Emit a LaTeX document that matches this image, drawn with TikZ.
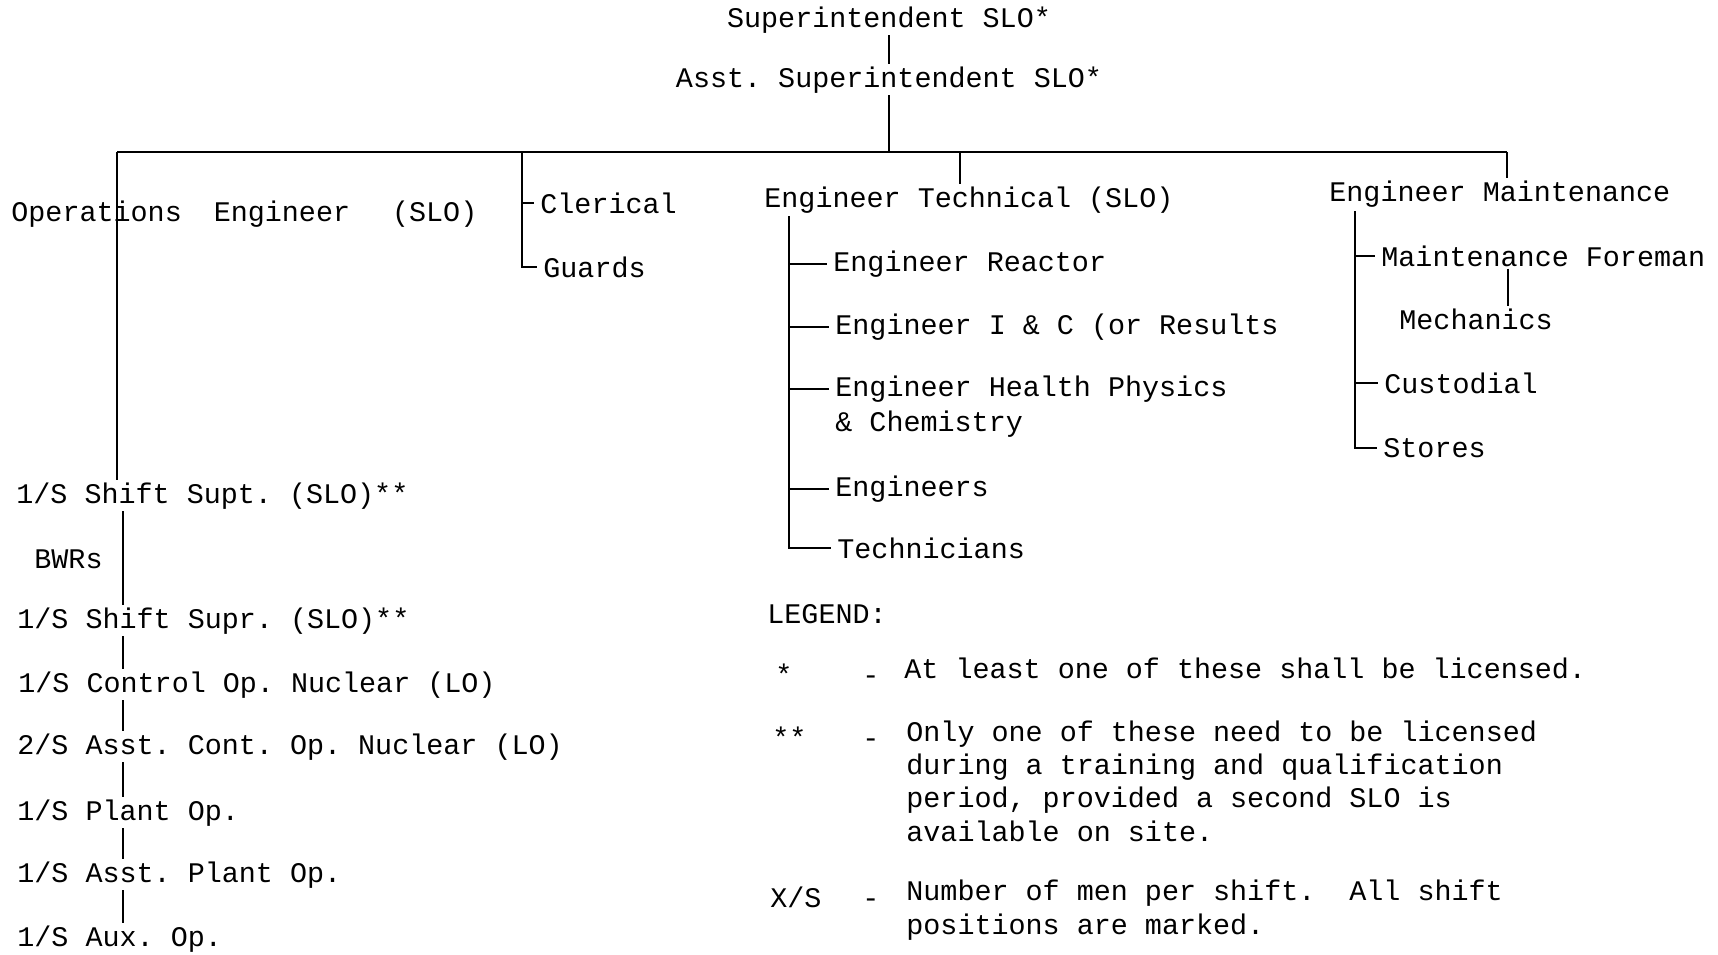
\documentclass[tikz,border=0pt]{standalone}
\usepackage{fontspec}
\setmonofont{Liberation Mono}
\usepackage{tikz}
\usetikzlibrary{positioning}

\begin{document}
\begin{tikzpicture}[x=0.5pt, y=0.5pt,
    font=\ttfamily\fontsize{14.2}{16.6}\selectfont,
    lbl/.style={anchor=base west, inner xsep=3pt, inner ysep=1pt},
    conn/.style={line width=0.9pt}]
    \useasboundingbox (0,0) rectangle (1718,-954);

    % top of the chart
    \node (sup) [anchor=base, inner sep=1pt] at (889,-27) {Superintendent SLO*};
    \node (asst) [anchor=base, inner sep=1pt] at (889,-87) {Asst. Superintendent SLO*};
    \coordinate (bus) at (889,-152);
    \draw [conn] (sup) -- (asst);
    \draw [conn] (asst) -- (bus);
    \draw [conn] (117,-152) -- (1507,-152);

    % departments
    \node (ops) [lbl] at (5,-221) {Operations\hspace{16pt}Engineer\hspace{21pt}(SLO)};
    \node (cler) [lbl] at (534,-213) {Clerical};
    \node (guards) [lbl] at (537,-277) {Guards};
    \node (tech) [lbl] at (758,-207) {Engineer Technical (SLO)};
    \node (maint) [lbl] at (1323,-201) {Engineer Maintenance};

    \coordinate (opsx) at (117,-152);
    \coordinate (clerx) at (522,-152);
    \coordinate (techx) at (960,-152);
    \coordinate (maintx) at (1507,-152);

    % technical staff
    \node (er) [lbl] at (827,-271) {Engineer Reactor};
    \node (ic) [lbl] at (829,-334) {Engineer I \& C (or Results};
    \node (hp) [lbl] at (829,-396) {Engineer Health Physics};
    \node (hpb) [lbl] at (829,-431) {\& Chemistry};
    \node (engs) [lbl] at (829,-496) {Engineers};
    \node (techn) [lbl] at (831,-558) {Technicians};
    \coordinate (techv) at (789,-216);

    % maintenance staff
    \node (mf) [lbl] at (1375,-266) {Maintenance Foreman};
    \node (mech) [lbl] at (1393,-329) {Mechanics};
    \node (cust) [lbl] at (1378,-393) {Custodial};
    \node (stores) [lbl] at (1377,-457) {Stores};
    \coordinate (maintv) at (1355,-211);
    \coordinate (mfx) at (1508,-272);

    % shift crew
    \node (ss1) [lbl] at (10,-503) {1/S Shift Supt. (SLO)**};
    \node (bwr) [lbl] at (28,-568) {BWRs};
    \node (ss2) [lbl] at (11,-628) {1/S Shift Supr. (SLO)**};
    \node (cop) [lbl] at (12,-692) {1/S Control Op. Nuclear (LO)};
    \node (acop) [lbl] at (11,-754) {2/S Asst. Cont. Op. Nuclear (LO)};
    \node (po) [lbl] at (11,-820) {1/S Plant Op.};
    \node (apo) [lbl] at (11,-882) {1/S Asst. Plant Op.};
    \node (aux) [lbl] at (11,-946) {1/S Aux. Op.};
    \coordinate (crewx) at (123,-500);

    \draw [conn] (opsx) -- (opsx |- ss1.north);
    \draw [conn] (clerx) |- (guards.west);
    \draw [conn] (clerx |- cler.west) -- (cler.west);
    \draw [conn] (techx) -- (techx |- tech.north);
    \draw [conn] (maintx) -- (maintx |- maint.north);

    \draw [conn] (techv) |- (techn.west);
    \foreach \n in {er,ic,hp,engs}
        \draw [conn] (techv |- \n.west) -- (\n.west);

    \draw [conn] (maintv) |- (stores.west);
    \foreach \n in {mf,cust}
        \draw [conn] (maintv |- \n.west) -- (\n.west);
    \draw [conn] (mfx |- mf.south) -- (mfx |- mech.north);

    \draw [conn] (crewx |- ss1.south) -- (crewx |- ss2.north);
    \draw [conn] (crewx |- ss2.south) -- (crewx |- cop.north);
    \draw [conn] (crewx |- cop.south) -- (crewx |- acop.north);
    \draw [conn] (crewx |- acop.south) -- (crewx |- po.north);
    \draw [conn] (crewx |- po.south) -- (crewx |- apo.north);
    \draw [conn] (crewx |- apo.south) -- (crewx |- aux.north);

    % legend
    \node (leg) [lbl] at (761,-623) {LEGEND:};
    \node (k1) [lbl] at (769,-684) {*};
    \node (d1) [lbl] at (856,-684) {-};
    \node (t1) [lbl] at (898,-678) {At least one of these shall be licensed.};
    \node (k2) [lbl] at (766,-747) {**};
    \node (d2) [lbl] at (856,-747) {-};
    \node (t2) [lbl, align=left] at (900,-841) {Only one of these need to be licensed\\during a training and qualification\\period, provided a second SLO is\\available on site.};
    \node (k3) [lbl] at (764,-907) {X/S};
    \node (d3) [lbl] at (856,-907) {-};
    \node (t3) [lbl, align=left] at (900,-934) {Number of men per shift.\hspace{17pt}All shift\\positions are marked.};
\end{tikzpicture}
\end{document}
